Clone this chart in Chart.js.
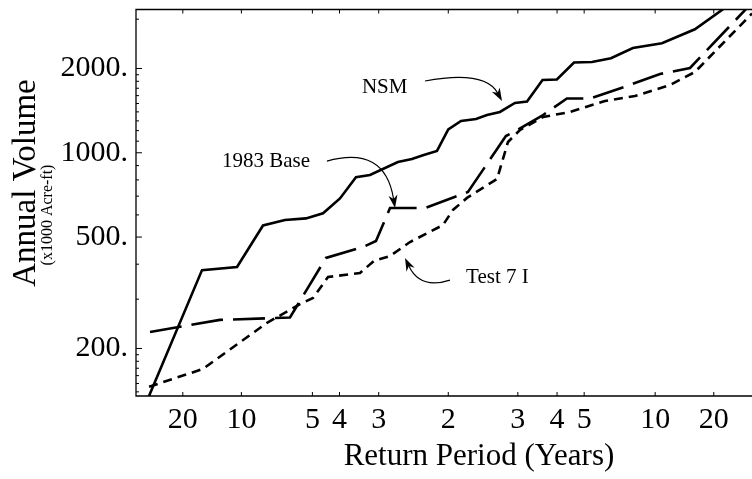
<!DOCTYPE html>
<html>
<head>
<meta charset="utf-8">
<script src="https://cdn.jsdelivr.net/npm/chart.js@4.4.0/dist/chart.umd.min.js"></script>
<style>
    html, body { margin: 0; padding: 0; background: #fff; overflow: hidden; }
</style>
</head>
<body>
<canvas id="volumeChart" width="752" height="479"></canvas>
<script>
// x = standard normal variate of the plotting position, y = volume (x1000 acre-ft)
const nsmZ      = [-1.867, -1.526, -1.309, -1.148, -1.012, -0.882, -0.776, -0.671, -0.572, -0.485, -0.312, -0.225, -0.157, -0.070, 0.000, 0.079, 0.172, 0.240, 0.320, 0.413, 0.488, 0.584, 0.673, 0.779, 0.890, 1.008, 1.144, 1.324, 1.528, 1.838];
const nsmVolume = [130, 381, 391, 550, 575, 583, 608, 687, 818, 833, 927, 950, 980, 1015, 1213, 1299, 1320, 1364, 1399, 1506, 1524, 1819, 1827, 2101, 2110, 2175, 2367, 2461, 2761, 3702];

const baseZ      = [-1.848, -1.415, -0.981, -0.758, -0.528, -0.448, -0.361, -0.144, 0.122, 0.357, 0.407, 0.587, 0.735, 0.878, 1.107, 1.312, 1.498, 1.857];
const baseVolume = [229, 253, 258, 421, 461, 484, 635, 635, 724, 1148, 1187, 1364, 1563, 1563, 1732, 1912, 2008, 3317];

const testZ      = [-1.854, -1.520, -1.334, -1.123, -0.919, -0.838, -0.745, -0.547, -0.460, -0.361, -0.237, -0.033, 0.029, 0.116, 0.302, 0.370, 0.444, 0.587, 0.754, 0.971, 1.157, 1.374, 1.528, 1.882];
const testVolume = [146, 169, 202, 247, 288, 303, 360, 372, 411, 428, 480, 552, 625, 690, 806, 1093, 1206, 1342, 1399, 1531, 1595, 1746, 1943, 3144];

// return period ticks on the normal probability axis
const xTickZ      = [-1.645, -1.282, -0.842, -0.674, -0.431, 0, 0.431, 0.674, 0.842, 1.282, 1.645];
const xTickLabels = ["20", "10", "5", "4", "3", "2", "3", "4", "5", "10", "20"];

const yMajorTicks = [200, 500, 1000, 2000];
const yMinorTicks = [140, 150, 160, 170, 180, 190, 300, 400, 600, 700, 800, 900,
                     1100, 1200, 1300, 1400, 1500, 1600, 1700, 1800, 1900, 3000];

const SERIF = '"Liberation Serif", "DejaVu Serif", serif';

// callouts, given in data coordinates
const notes = [
    { text: "NSM",       at: [-0.535, 1717], from: [-0.144, 1805], bend: [0.227, 1975], tip: [0.333, 1531] },
    { text: "1983 Base", at: [-1.402, 934],  from: [-0.752, 934],  bend: [-0.393, 1066], tip: [-0.330, 635] },
    { text: "Test 7 I",  at: [0.110, 360],   from: [0.0105, 351],  bend: [-0.175, 324], tip: [-0.268, 421] }
];

function toPoints(xs, ys) {
    return xs.map((x, i) => ({ x: x, y: ys[i] }));
}

function arrowHead(ctx, x, y, angle) {
    const len = 13, half = 4.5, notch = 9;
    ctx.save();
    ctx.translate(x, y);
    ctx.rotate(angle);
    ctx.beginPath();
    ctx.moveTo(0, 0);
    ctx.lineTo(-len, -half);
    ctx.lineTo(-notch, 0);
    ctx.lineTo(-len, half);
    ctx.closePath();
    ctx.fill();
    ctx.restore();
}

const framePlugin = {
    id: "frame",
    afterDraw(chart) {
        const ctx = chart.ctx;
        const area = chart.chartArea;
        const xs = chart.scales.x;
        const ys = chart.scales.y;

        ctx.save();
        ctx.strokeStyle = "#000";
        ctx.fillStyle = "#000";
        ctx.lineWidth = 1.3;

        // frame: left, bottom, top (right side runs off the picture)
        ctx.beginPath();
        ctx.moveTo(area.right, area.top);
        ctx.lineTo(area.left, area.top);
        ctx.lineTo(area.left, area.bottom);
        ctx.lineTo(area.right, area.bottom);
        ctx.stroke();

        // inward ticks
        ctx.lineWidth = 1;
        ctx.beginPath();
        yMajorTicks.forEach(v => {
            const py = ys.getPixelForValue(v);
            ctx.moveTo(area.left, py);
            ctx.lineTo(area.left + 6, py);
        });
        yMinorTicks.forEach(v => {
            const py = ys.getPixelForValue(v);
            ctx.moveTo(area.left, py);
            ctx.lineTo(area.left + 3, py);
        });
        xTickZ.forEach(z => {
            const px = xs.getPixelForValue(z);
            ctx.moveTo(px, area.bottom);
            ctx.lineTo(px, area.bottom - 4);
            ctx.moveTo(px, area.top);
            ctx.lineTo(px, area.top + 4);
        });
        ctx.stroke();

        // axis titles
        ctx.textAlign = "center";
        ctx.textBaseline = "alphabetic";
        ctx.font = "31px " + SERIF;
        ctx.fillText("Return Period (Years)", 479, 465);

        ctx.save();
        ctx.translate(35, 183);
        ctx.rotate(-Math.PI / 2);
        ctx.font = "33px " + SERIF;
        ctx.fillText("Annual Volume", 0, 0);
        ctx.restore();

        ctx.save();
        ctx.translate(52, 215);
        ctx.rotate(-Math.PI / 2);
        ctx.font = "16px " + SERIF;
        ctx.fillText("(x1000 Acre-ft)", 0, 0);
        ctx.restore();

        // callouts
        ctx.font = "21px " + SERIF;
        ctx.textAlign = "left";
        ctx.textBaseline = "middle";
        ctx.lineWidth = 1.2;
        notes.forEach(n => {
            ctx.fillText(n.text, xs.getPixelForValue(n.at[0]), ys.getPixelForValue(n.at[1]));
            const x0 = xs.getPixelForValue(n.from[0]), y0 = ys.getPixelForValue(n.from[1]);
            const x1 = xs.getPixelForValue(n.bend[0]), y1 = ys.getPixelForValue(n.bend[1]);
            const x2 = xs.getPixelForValue(n.tip[0]),  y2 = ys.getPixelForValue(n.tip[1]);
            const ang = Math.atan2(y2 - y1, x2 - x1);
            ctx.beginPath();
            ctx.moveTo(x0, y0);
            ctx.quadraticCurveTo(x1, y1, x2 - 9 * Math.cos(ang), y2 - 9 * Math.sin(ang));
            ctx.stroke();
            arrowHead(ctx, x2, y2, ang);
        });

        ctx.restore();
    }
};

new Chart(document.getElementById("volumeChart"), {
    type: "line",
    data: {
        datasets: [
            {
                label: "NSM",
                data: toPoints(nsmZ, nsmVolume),
                borderColor: "#000",
                borderWidth: 2.6,
                pointRadius: 0,
                tension: 0,
                fill: false
            },
            {
                label: "1983 Base",
                data: toPoints(baseZ, baseVolume),
                borderColor: "#000",
                borderWidth: 2.6,
                borderDash: [32, 10],
                pointRadius: 0,
                tension: 0,
                fill: false
            },
            {
                label: "Test 7 I",
                data: toPoints(testZ, testVolume),
                borderColor: "#000",
                borderWidth: 2.6,
                borderDash: [9, 6],
                pointRadius: 0,
                tension: 0,
                fill: false
            }
        ]
    },
    options: {
        responsive: false,
        animation: false,
        devicePixelRatio: 1,
        layout: { padding: { top: 9.5, right: 0, bottom: 0, left: 0 } },
        plugins: {
            legend: { display: false },
            tooltip: { enabled: false }
        },
        scales: {
            x: {
                type: "linear",
                min: -1.935,
                max: 1.882,
                grid: { display: false, drawTicks: false },
                border: { display: false },
                afterFit: s => { s.height = 83; s.paddingLeft = 0; s.paddingRight = 0; },
                afterBuildTicks: s => { s.ticks = xTickZ.map(z => ({ value: z })); },
                ticks: {
                    autoSkip: false,
                    maxRotation: 0,
                    padding: 6,
                    color: "#000",
                    font: { family: SERIF, size: 30 },
                    callback: (v, i) => xTickLabels[i]
                }
            },
            y: {
                type: "logarithmic",
                min: 135.3,
                max: 3249,
                grid: { display: false, drawTicks: false },
                border: { display: false },
                afterFit: s => { s.width = 136; s.paddingTop = 0; s.paddingBottom = 0; },
                afterBuildTicks: s => { s.ticks = yMajorTicks.map(v => ({ value: v })); },
                ticks: {
                    autoSkip: false,
                    padding: 8,
                    color: "#000",
                    font: { family: SERIF, size: 30 },
                    callback: v => v + "."
                }
            }
        }
    },
    plugins: [framePlugin]
});
</script>
</body>
</html>
